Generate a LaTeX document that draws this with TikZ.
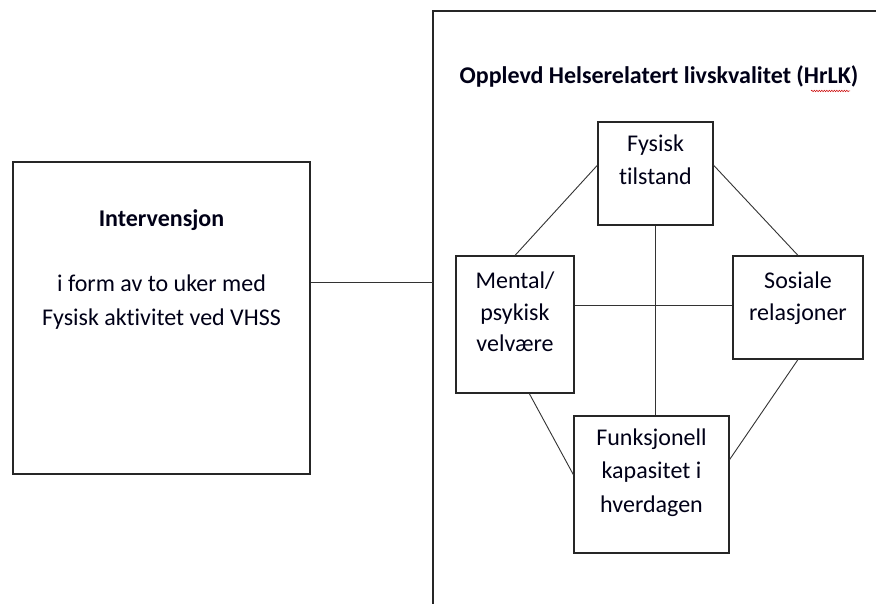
\documentclass[tikz,border=0pt]{standalone}
\usepackage{fontspec}
\setmainfont[Ligatures=NoCommon]{Carlito}
\usetikzlibrary{calc,decorations.pathmorphing}
\begin{document}
\begin{tikzpicture}[x=1pt,y=-1pt,
  box/.style={draw=black!85, line width=1.1pt, fill=white, inner sep=0pt},
  link/.style={draw=black!80, line width=0.9pt},
  txt/.style={text=black!85!blue!60!black, align=center, inner sep=0pt, anchor=base},
  ttl/.style={font=\fontsize{24}{33}\selectfont\bfseries, text=black!85!blue!60!black, inner sep=0pt, anchor=base}
]
\useasboundingbox (0,0) rectangle (876,604);
\fill[white] (0,0) rectangle (876,604);
% outer frame (open at right and bottom)
\coordinate (ftr) at (876,11);
\coordinate (ftl) at (433,11);
\coordinate (fbl) at (433,604);
\draw[box, fill=none] (ftr) -- (ftl) -- (fbl);
\node[ttl] (title) at (659,84) {Opplevd Helserelatert livskvalitet (HrLK)};
\coordinate (sq1) at (811,91);
\coordinate (sq2) at (850,91);
\draw[red!80!black, line width=0.5pt, decorate, decoration={snake, amplitude=0.7pt, segment length=2.5pt}] (sq1) -- (sq2);

% boxes
\node[box, minimum width=297pt, minimum height=312pt] (interv) at (161.5,318) {};
\node[box, minimum width=115pt, minimum height=103pt] (fys) at (655.5,173.5) {};
\node[box, minimum width=118pt, minimum height=137pt] (mental) at (515,324.5) {};
\node[box, minimum width=130pt, minimum height=103pt] (sos) at (798,307.5) {};
\node[box, minimum width=155pt, minimum height=137pt] (funk) at (651.5,484.5) {};

% texts (anchor base = baseline of the last line)
\node[ttl] (intT) at (161.5,227) {Intervensjon};
\node[txt, font=\fontsize{24}{35}\selectfont] (intB) at (161.5,326) {i form av to uker med\\Fysisk aktivitet ved VHSS};
\node[txt, font=\fontsize{24}{32.5}\selectfont] (fysT) at (655.5,184.5) {Fysisk\\tilstand};
\node[txt, font=\fontsize{24}{32}\selectfont] (menT) at (515,352) {Mental/\\psykisk\\velvære};
\node[txt, font=\fontsize{24}{32}\selectfont] (sosT) at (798,320) {Sosiale\\relasjoner};
\node[txt, font=\fontsize{24}{33.5}\selectfont] (funT) at (651.5,512) {Funksjonell\\kapasitet i\\hverdagen};

% connectors
\coordinate (fl) at (433,282);
\draw[link] (fl -| interv.east) -- (fl);
\draw[link] (fys.south) -- (fys.south |- funk.north);
\coordinate (hy) at (600,305);
\draw[link] (hy -| mental.east) -- (hy -| sos.west);
\draw[link] ($(fys.north west)!0.42!(fys.south west)$) -- (mental.north);
\draw[link] ($(fys.north east)!0.42!(fys.south east)$) -- (sos.north);
\draw[link] ($(mental.south west)!0.62!(mental.south east)$) -- ($(funk.north west)!0.43!(funk.south west)$);
\draw[link] (sos.south) -- ($(funk.north east)!0.32!(funk.south east)$);
\end{tikzpicture}
\end{document}
